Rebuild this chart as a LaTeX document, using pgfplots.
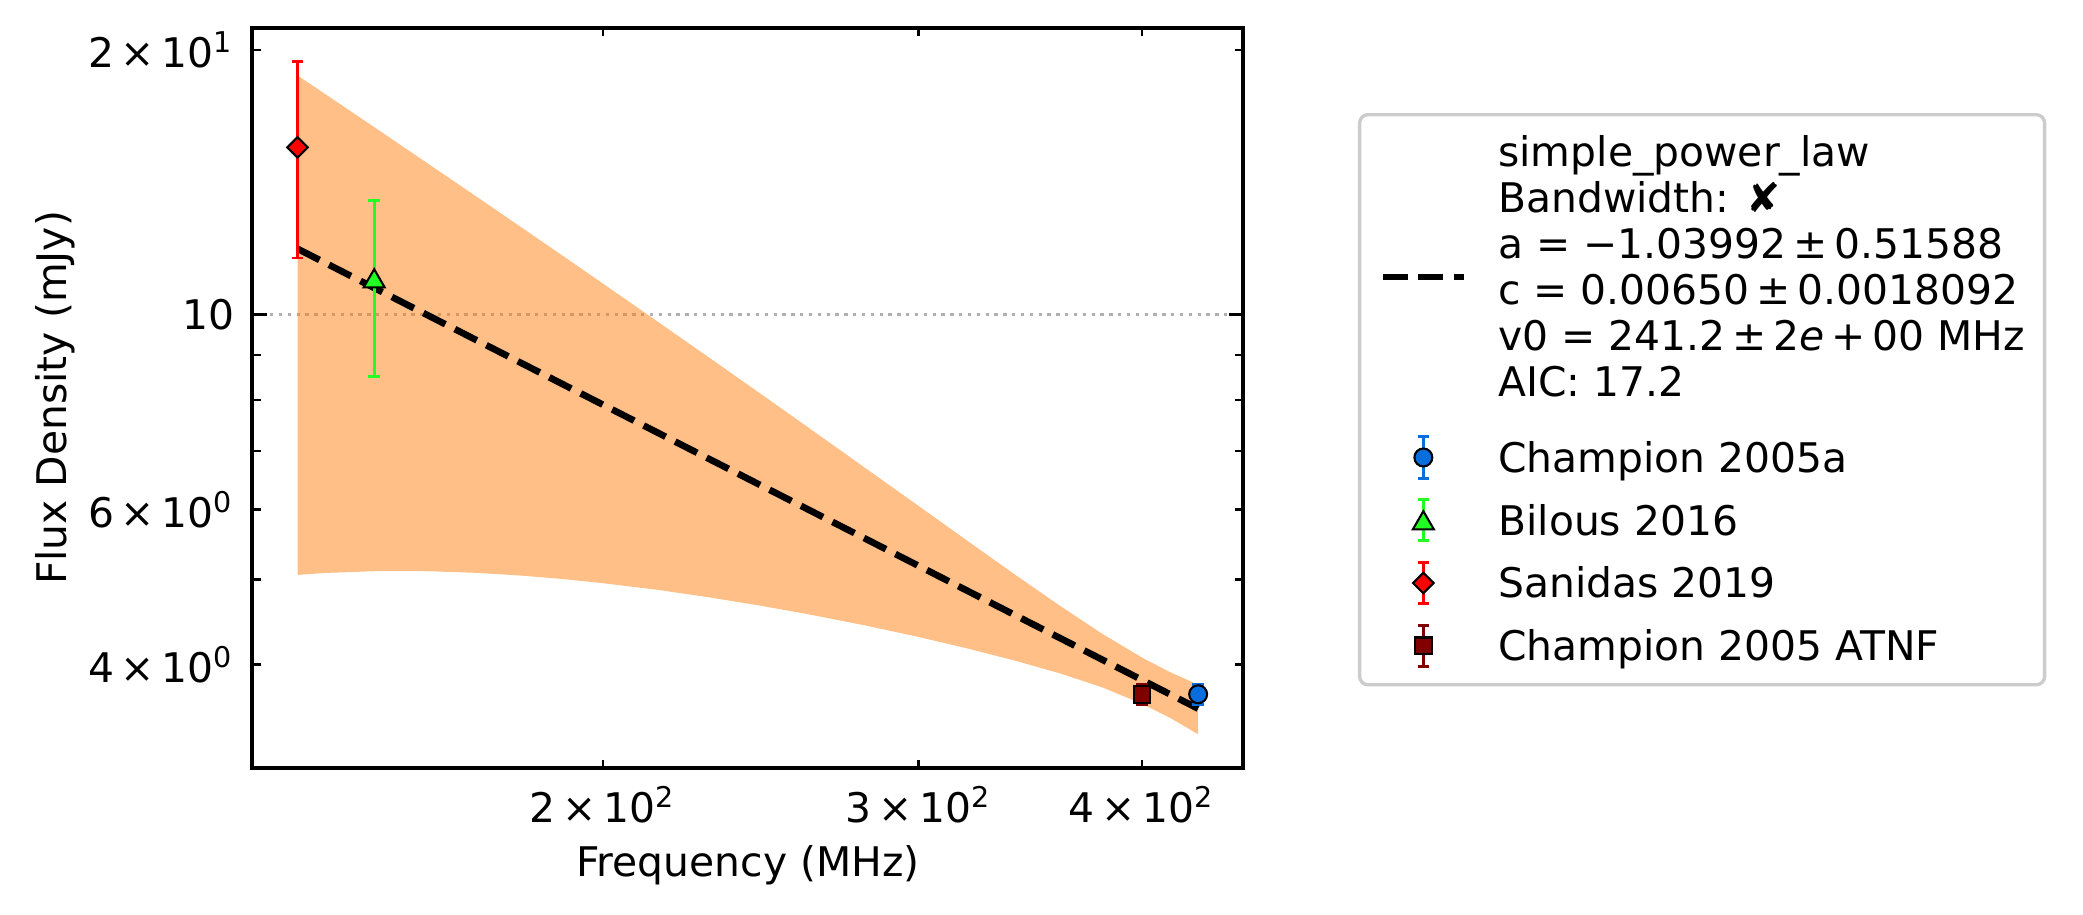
\documentclass[border=0pt]{standalone}
\usepackage{pgfplots}
\pgfplotsset{compat=1.18}
\usepackage{fontspec}
\setmainfont{DejaVu Sans}

\definecolor{bandorange}{RGB}{255,127,14}
\definecolor{cblue}{RGB}{8,110,222}
\definecolor{cgreen}{RGB}{34,255,34}
\definecolor{cred}{RGB}{255,0,0}
\definecolor{cmaroon}{RGB}{128,0,0}
\definecolor{gridgray}{RGB}{176,176,176}
\definecolor{framegray}{RGB}{204,204,204}

\newcommand\lfont{\fontsize{9.8pt}{11.04pt}\selectfont}
\newcommand\sci[2]{#1\,×\,10\textsuperscript{#2}}

% legend handle: vertical error bar with caps and a marker in the middle
\newcommand\errhandle[2]{%
  \path (0pt,0pt) (19.4pt,0pt);
  \draw[#1, line width=0.7pt] (9.7pt,-4.95pt) -- (9.7pt,4.95pt)
        (8.3pt,-4.95pt) -- (11.1pt,-4.95pt) (8.3pt,4.95pt) -- (11.1pt,4.95pt);
  \draw[black, fill=#1, line width=0.5pt] plot[only marks, #2] coordinates {(9.7pt,0pt)};
}

\begin{document}
\begin{tikzpicture}[font=\lfont]
\useasboundingbox (-60.58pt,-35.04pt) rectangle (439.34pt,184.32pt);
\begin{loglogaxis}[
  scale only axis,
  width=237.84pt, height=177.6pt,
  xmin=127.4, xmax=455.8,
  ymin=3.05, ymax=21.19,
  axis line style={line width=0.96pt},
  tick align=inside,
  every tick/.style={black, line width=0.6pt},
  major tick length=2pt,
  minor tick length=2pt,
  xtick={200,300,400},
  xticklabels={\sci{2}{2},\sci{3}{2},\sci{4}{2}},
  ytick={4,6,20},
  yticklabels={\sci{4}{0},\sci{6}{0},\sci{2}{1}},
  minor ytick={5,7,8,9},
  extra y ticks={10},
  extra y tick labels={10},
  extra y tick style={
    major tick length=3.5pt,
    every tick/.style={black, line width=0.8pt},
    grid=major,
    major grid style={gridgray, line width=0.8pt, dash pattern=on 0.8pt off 1.32pt},
  },
  tick label style={font=\lfont},
  xticklabel style={inner sep=0pt, anchor=north, yshift=-4.1pt},
  yticklabel style={inner sep=0pt, anchor=east, xshift=-4.2pt},
  xlabel={Frequency (MHz)},
  ylabel={Flux Density (mJy)},
  label style={font=\lfont},
  xlabel style={at={(axis description cs:0.5,-0.1469)}, anchor=base, inner sep=0pt},
  ylabel style={at={(axis description cs:-0.1880,0.5)}, anchor=base, inner sep=0pt},
  legend cell align=left,
  legend style={
    at={(axis description cs:1.1155,0.8851)}, anchor=north west,
    draw=framegray, line width=0.8pt, rounded corners=2pt,
    font=\lfont,
    inner xsep=4.8pt, inner ysep=1.8pt,
    column sep=0pt,
    row sep=0pt,
    nodes={inner sep=0pt, text depth=, text height=},
    /tikz/every odd column/.append style={column sep=7.5pt},
  },
]

% fit uncertainty band: upper edge forward, lower edge back
\addplot[forget plot, draw=none, fill=bandorange, fill opacity=0.5] coordinates {
  (135,18.712) (140,17.804) (150,16.195) (160,14.814) (170,13.619)
  (180,12.575) (190,11.659) (200,10.847) (215,9.791) (230,8.894)
  (245,8.125) (260,7.459) (280,6.700) (300,6.062) (320,5.519)
  (340,5.057) (360,4.664) (380,4.336) (400,4.073) (415,3.918) (430,3.794)
  (430,3.332) (415,3.476) (400,3.609) (380,3.768) (360,3.908)
  (340,4.039) (320,4.169) (300,4.300) (280,4.432) (260,4.565)
  (245,4.665) (230,4.764) (215,4.861) (200,4.949) (190,5.003)
  (180,5.049) (170,5.085) (160,5.106) (150,5.109) (140,5.084) (135,5.058)
} -- cycle;

% simple power law fit
\addplot[black, line width=1.6pt, dash pattern=on 5.92pt off 2.56pt,
  legend image code/.code={
    \path (0pt,0pt) (19.4pt,0pt);
    \draw[black, line width=1.6pt, dash pattern=on 5.92pt off 2.56pt] (0pt,-0.65pt) -- (19.4pt,-0.65pt);
  }] coordinates {
  (135,11.885) (200,7.898) (300,5.181) (430,3.563)
};
\addlegendentry{\begin{tabular}{@{}l@{}}\rule{0pt}{10.7pt}simple\_power\_law\tabularnewline
Bandwidth: ✘\tabularnewline
a = −1.03992\,±\,0.51588\tabularnewline
c = 0.00650\,±\,0.0018092\tabularnewline
v0 = 241.2\,±\,2\textit{e}\,+\,00 MHz\tabularnewline
AIC: 17.2\rule[-7.03pt]{0pt}{0pt}\end{tabular}}

% Champion 2005a
\addplot[only marks, cblue, mark=*, mark size=2.15pt,
  mark options={fill=cblue, draw=black, line width=0.5pt},
  legend image code/.code={\errhandle{cblue}{mark=*, mark size=2.15pt}},
  error bars/.cd, y dir=both, y explicit,
  error bar style={cblue, line width=0.7pt},
  error mark options={cblue, rotate=90, mark size=1.4pt, line width=0.7pt}]
  coordinates {(430,3.7) +- (0,0.1)};
\addlegendentry{\rule[-3.96pt]{0pt}{15.07pt}Champion 2005a}

% Bilous 2016
\addplot[only marks, cgreen, mark=triangle*, mark size=2.9pt,
  mark options={fill=cgreen, draw=black, line width=0.5pt, yshift=-0.72pt},
  legend image code/.code={\errhandle{cgreen}{mark=triangle*, mark size=2.9pt, mark options={yshift=-0.72pt}}},
  error bars/.cd, y dir=both, y explicit,
  error bar style={cgreen, line width=0.7pt},
  error mark options={cgreen, rotate=90, mark size=1.4pt, line width=0.7pt}]
  coordinates {(149,11.0) +- (0,2.5)};
\addlegendentry{\rule[-3.96pt]{0pt}{15.07pt}Bilous 2016}

% Sanidas 2019
\addplot[only marks, cred, mark=square*, mark size=1.75pt,
  mark options={fill=cred, draw=black, line width=0.5pt, rotate=45},
  legend image code/.code={\errhandle{cred}{mark=square*, mark size=1.75pt, mark options={rotate=45}}},
  error bars/.cd, y dir=both, y explicit,
  error bar style={cred, line width=0.7pt},
  error mark options={cred, rotate=90, mark size=1.4pt, line width=0.7pt}]
  coordinates {(135,15.5) +- (0,3.9)};
\addlegendentry{\rule[-3.96pt]{0pt}{15.07pt}Sanidas 2019}

% Champion 2005 ATNF
\addplot[only marks, cmaroon, mark=square*, mark size=2pt,
  mark options={fill=cmaroon, draw=black, line width=0.5pt},
  legend image code/.code={\errhandle{cmaroon}{mark=square*, mark size=2pt}},
  error bars/.cd, y dir=both, y explicit,
  error bar style={cmaroon, line width=0.7pt},
  error mark options={cmaroon, rotate=90, mark size=1.4pt, line width=0.7pt}]
  coordinates {(400,3.7) +- (0,0.1)};
\addlegendentry{\rule[-3.96pt]{0pt}{15.07pt}Champion 2005 ATNF}

\end{loglogaxis}
\end{tikzpicture}
\end{document}
